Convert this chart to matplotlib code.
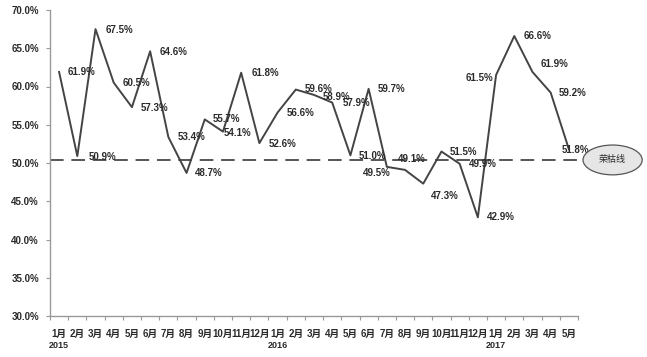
import matplotlib
matplotlib.use("Agg")
import matplotlib.pyplot as plt
from matplotlib.patches import Ellipse
import numpy as np

plt.rcParams['font.family'] = ['Liberation Sans', 'Noto Sans CJK SC', 'DejaVu Sans']

months = ["1月", "2月", "3月", "4月", "5月", "6月", "7月", "8月", "9月", "10月", "11月", "12月",
          "1月", "2月", "3月", "4月", "5月", "6月", "7月", "8月", "9月", "10月", "11月", "12月",
          "1月", "2月", "3月", "4月", "5月"]
years = ["2015", "2016", "2017"]
year_start_idx = [0, 12, 24]
values = [61.9, 50.9, 67.5, 60.5, 57.3, 64.6, 53.4, 48.7, 55.7, 54.1, 61.8, 52.6,
          56.6, 59.6, 58.9, 57.9, 51.0, 59.7, 49.5, 49.1, 47.3, 51.5, 49.9, 42.9,
          61.5, 66.6, 61.9, 59.2, 51.8]
threshold = 50.4
threshold_label = "荣枯线"

# label offsets in pixels (layout only)
offsets = [(9, 0), (11, -1), (10, -1), (9, 0), (9, -1), (9, -1), (9, 0), (8, 0), (8, 0), (1, -1),
           (10, 0), (9, -1), (9, 0), (9, 1), (9, -2), (10, 0), (8, -1), (9, 0), (-24, -6), (-7, 11),
           (8, -12), (8, 0), (9, 0), (9, 0), (-30, -3), (9, 0), (8, 8), (8, 0), (-7, -1)]

fig = plt.figure(figsize=(6.47, 3.57), dpi=100)
ax = fig.add_axes([50/647, 1-316/357, (578-50)/647, (316-10)/357])

x = np.arange(len(values))
txtc = '#2a2a2a'
ax.plot(x, values, color='#444444', lw=1.4, zorder=3)
ax.plot([-0.5, 29.0], [threshold, threshold], color='#555555', lw=1.4,
        dashes=(7, 4), clip_on=False, zorder=2)

for xi, v, (dx, dy) in zip(x, values, offsets):
    ax.annotate(f"{v:.1f}%", (xi, v), xytext=(dx, dy), textcoords='offset pixels',
                ha='left', va='center', fontsize=7, fontweight='bold', color=txtc, zorder=4)

ell = Ellipse((30.4, threshold), 3.25, 3.9, facecolor='#e6e6e6', edgecolor='#555555',
              lw=0.9, clip_on=False, zorder=5)
ax.add_patch(ell)
ax.text(30.4, threshold, threshold_label, ha='center', va='center', fontsize=6.5,
        color=txtc, zorder=6, family=['Noto Sans CJK SC'])

ax.set_xlim(-0.5, len(values) - 0.5)
ax.set_ylim(30, 70)
ax.set_yticks(np.arange(30, 70.1, 5))
ax.set_yticklabels([f"{t:.1f}%" for t in np.arange(30, 70.1, 5)], fontsize=7,
                   fontweight='bold', color=txtc)
ax.set_xticks(x)
ax.set_xticklabels(months, fontsize=7, fontweight='bold', color=txtc)
ax.tick_params(axis='x', which='major', length=0, pad=9)
ax.set_xticks(np.arange(-0.5, len(values), 1), minor=True)
ax.tick_params(axis='x', which='minor', length=3, color='#999999', width=0.8)
ax.tick_params(axis='y', length=3, color='#999999', width=0.8, pad=5)

for s in ['top', 'right']:
    ax.spines[s].set_visible(False)
for s in ['left', 'bottom']:
    ax.spines[s].set_color('#999999')
    ax.spines[s].set_linewidth(1.0)

for yr, idx in zip(years, year_start_idx):
    ax.annotate(yr, (idx, 30), xytext=(0, -29), textcoords='offset pixels',
                ha='center', va='center', fontsize=6.5, fontweight='bold', color=txtc,
                annotation_clip=False)

fig.savefig("out.png", dpi=100)
